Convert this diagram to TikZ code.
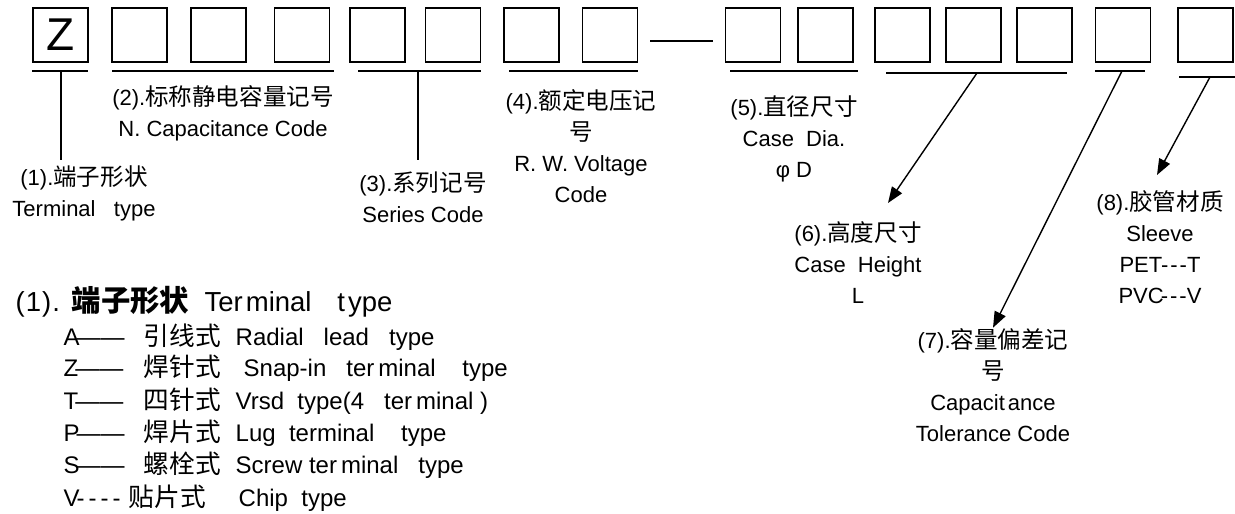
\documentclass[tikz,border=0pt]{standalone}
\usepackage{fontspec}
\setmainfont{Liberation Sans}
\newfontfamily\cjk[Scale=1.07]{Noto Sans CJK SC}
\usetikzlibrary{arrows.meta}

\begin{document}
\begin{tikzpicture}[x=1pt, y=-1pt, >={Triangle[length=16pt,width=12pt]}, line width=1.4pt,
    box/.style={draw, line width=1.7pt, minimum width=55pt, minimum height=54pt, inner sep=0pt},
    lbl/.style={align=center, inner sep=0pt, font=\fontsize{22}{31}\selectfont},
    item/.style={anchor=west, inner sep=0pt, font=\fontsize{24}{24}\selectfont}]
    \useasboundingbox (0,0) rectangle (1235,514);

    % code boxes
    \node[box, font=\fontsize{46}{46}\selectfont] (b1) at (60.5,35) {Z};
    \foreach \n/\x in {2/139.5, 3/218.5, 4/302, 5/377.5, 6/453, 7/531.5, 8/610,
        9/753, 10/825.5, 11/902.5, 12/973.5, 13/1044.5, 14/1123, 15/1205.5}
        \node[box] (b\n) at (\x,35) {};
    \draw[shorten <=12pt, shorten >=12pt] ([yshift=-6pt]b8.east) -- ([yshift=-6pt]b9.west);

    % underlines
    \draw (32,71) -- (88,71);
    \draw (112,71) -- (334,71);
    \draw (358,71) -- (481,71);
    \draw (509,71) -- (638,71);
    \draw (730,71) -- (858,71);
    \draw (886,73) -- (1067,73);
    \draw (1095,71) -- (1145,71);
    \draw (1179,77) -- (1235,77);
    \coordinate (u1) at (61,71);
    \coordinate (u3) at (418,71);
    \coordinate (u6) at (977,73);
    \coordinate (u7) at (1122,71);
    \coordinate (u8) at (1210,77);
    \coordinate (a6) at (888,203);
    \coordinate (a8) at (1157,175);

    % labels
    \node[lbl] (t1) at (84,193) {(1).{\cjk 端子形状}\\Terminal~~~type};
    \node[lbl] (t2) at (223,113) {(2).{\cjk 标称静电容量记号}\\N. Capacitance Code};
    \node[lbl] (t3) at (423,197) {(3).{\cjk 系列记号}\\Series Code};
    \node[lbl] (t4) at (581,146) {(4).{\cjk 额定电压记}\\{\cjk 号}\\R. W. Voltage\\Code};
    \node[lbl] (t5) at (794,139) {(5).{\cjk 直径尺寸}\\Case~~Dia.\\φ D};
    \node[lbl] (t6) at (858,263) {(6).{\cjk 高度尺寸}\\Case~~Height\\L};
    \node[lbl] (t7) at (993,385) {(7).{\cjk 容量偏差记}\\{\cjk 号}\\Capacit\kern3pt ance\\Tolerance Code};
    \node[lbl] (t8) at (1160,247) {(8).{\cjk 胶管材质}\\Sleeve\\PET-\kern2pt-\kern2pt-T\\PVC\kern-3pt-\kern2pt-\kern2pt-V};

    \draw[shorten >=5pt] (u1) -- (u1 |- t1.north);
    \draw[shorten >=11pt] (u3) -- (u3 |- t3.north);
    \draw[->] (u6) -- (a6);
    \draw[->] (u7) -- (t7.north);
    \draw[->] (u8) -- (a8);

    % terminal list
    \node[item, font=\fontsize{27.5}{27.5}\selectfont] (l0) at (15,302)
        {\makebox[56pt][l]{(\kern1pt1\kern1pt)\kern1pt.}{\cjk\bfseries 端子形状}~~Ter\kern3pt minal~~~\kern3pt t\kern3pt ype};
    \node[item] (l1) at (63,337) {\makebox[80pt][l]{A\kern-3pt——}\makebox[92pt][l]{\cjk 引线式}Radial~~~lead~~~type};
    \node[item] (l2) at (63,368) {\makebox[80pt][l]{Z\kern-3pt——}\makebox[100pt][l]{\cjk 焊针式}Snap-in~~~ter\kern4pt minal~~~~type};
    \node[item] (l3) at (63,401) {\makebox[80pt][l]{T\kern-3pt——}\makebox[92pt][l]{\cjk 四针式}Vrsd~~type(4~~~ter\kern4pt minal~)};
    \node[item] (l4) at (63,433) {\makebox[80pt][l]{P\kern-3pt——}\makebox[92pt][l]{\cjk 焊片式}Lug~~terminal~~~~type};
    \node[item] (l5) at (63,465) {\makebox[80pt][l]{S\kern-3pt——}\makebox[92pt][l]{\cjk 螺栓式}Screw~ter\kern4pt minal~~~type};
    \node[item] (l6) at (63,498) {\makebox[65pt][l]{V\kern-3pt-\kern4pt-\kern4pt-\kern4pt-}\makebox[110pt][l]{\cjk 贴片式}Chip~~type};
\end{tikzpicture}
\end{document}
